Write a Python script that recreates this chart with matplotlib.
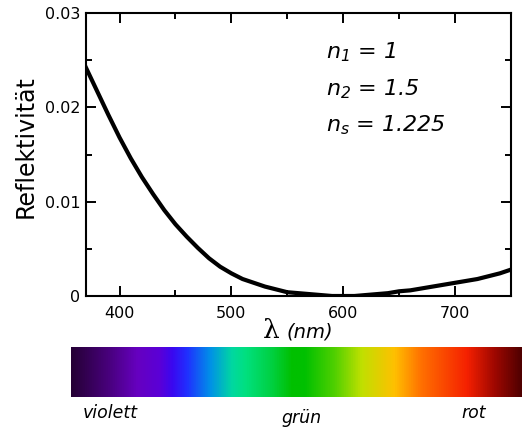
import numpy as np
import matplotlib
matplotlib.use("Agg")
import matplotlib.pyplot as plt
from matplotlib.ticker import MultipleLocator, FuncFormatter
from matplotlib.colors import LinearSegmentedColormap

# values
wavelength = [370, 380, 390, 400, 410, 420, 430, 440, 450, 460, 470, 480,
              490, 500, 510, 520, 530, 540, 550, 560, 570, 580, 590, 600,
              610, 620, 630, 640, 650, 660, 670, 680, 690, 700, 710, 720,
              730, 740, 750]
reflectivity = [0.0242, 0.0217, 0.0192, 0.0168, 0.0146, 0.0126, 0.0108,
                0.0091, 0.0076, 0.0063, 0.0051, 0.0040, 0.0031, 0.0024,
                0.0018, 0.0014, 0.0010, 0.0007, 0.0004, 0.0003, 0.0002,
                0.0001, 0.0, 0.0, 0.0, 0.0001, 0.0002, 0.0003, 0.0005,
                0.0006, 0.0008, 0.0010, 0.0012, 0.0014, 0.0016, 0.0018,
                0.0021, 0.0024, 0.0028]
index_labels = [r"$n_1$ = 1", r"$n_2$ = 1.5", r"$n_s$ = 1.225"]
color_names = ["violett", "grün", "rot"]

# spectrum colours (position along bar, colour)
spectrum_stops = [
    (0.0, "#250035"), (0.086, "#4a0080"), (0.146, "#6600c0"),
    (0.197, "#5a00d8"), (0.224, "#3a08f0"), (0.257, "#2030ff"),
    (0.308, "#0090e8"), (0.357, "#00d8a0"), (0.386, "#00e080"),
    (0.446, "#00d040"), (0.49, "#00c000"), (0.519, "#00c000"),
    (0.585, "#50d000"), (0.645, "#c0e000"), (0.718, "#ffc000"),
    (0.778, "#ff7000"), (0.88, "#f52000"), (0.94, "#a00800"),
    (1.0, "#500000"),
]

plt.rcParams["font.family"] = ["DejaVu Sans"]
plt.rcParams["mathtext.fontset"] = "custom"
plt.rcParams["mathtext.rm"] = "DejaVu Sans:italic"
plt.rcParams["mathtext.it"] = "DejaVu Sans:italic"

W, H = 525, 430
fig = plt.figure(figsize=(W / 100, H / 100), dpi=100)

ax = fig.add_axes([86 / W, 1 - 296 / H, 425 / W, 283 / H])
ax.plot(wavelength, reflectivity, color="black", lw=3, solid_joinstyle="round")
ax.set_xlim(370, 750)
ax.set_ylim(0, 0.03)

ax.xaxis.set_major_locator(MultipleLocator(100))
ax.xaxis.set_minor_locator(MultipleLocator(50))
ax.yaxis.set_major_locator(MultipleLocator(0.01))
ax.yaxis.set_minor_locator(MultipleLocator(0.005))
ax.yaxis.set_major_formatter(FuncFormatter(lambda v, p: "0" if abs(v) < 1e-9 else "%.2f" % v))
ax.tick_params(which="both", direction="in", top=True, right=True, width=1.4,
               labelsize=11.5)
ax.tick_params(which="major", length=7.5)
ax.tick_params(which="minor", length=4)
ax.tick_params(axis="x", pad=7)
ax.tick_params(axis="y", pad=4)
for s in ax.spines.values():
    s.set_linewidth(1.5)

tx = (326 - 86) / 425
for lbl, ty in zip(index_labels, [0.841, 0.710, 0.580]):
    ax.text(tx, ty, lbl, transform=ax.transAxes, fontsize=16, style="italic",
            va="baseline", ha="left")

fig.text(26 / W, 1 - 146.5 / H, "Reflektivität", rotation=90, ha="center",
         va="center", fontsize=17)
fig.text(271 / W, 1 - 338 / H, "λ", family="DejaVu Serif", fontsize=19,
         ha="center", va="baseline")
fig.text(286 / W, 1 - 337 / H, "(nm)", fontsize=14, style="italic",
         ha="left", va="baseline")

# colour bar of the visible spectrum
cmap = LinearSegmentedColormap.from_list("spectrum", spectrum_stops)
bar = fig.add_axes([71 / W, 1 - 397 / H, 451 / W, 50 / H])
bar.imshow(np.linspace(0, 1, 512)[None, :], cmap=cmap, aspect="auto")
bar.axis("off")

fig.text(83 / W, 1 - 418 / H, color_names[0], fontsize=12.5, style="italic",
         ha="left", va="baseline")
fig.text(302 / W, 1 - 423 / H, color_names[1], fontsize=12.5, style="italic",
         ha="center", va="baseline")
fig.text(474 / W, 1 - 418 / H, color_names[2], fontsize=12.5, style="italic",
         ha="center", va="baseline")

fig.savefig("out.png", dpi=100)
